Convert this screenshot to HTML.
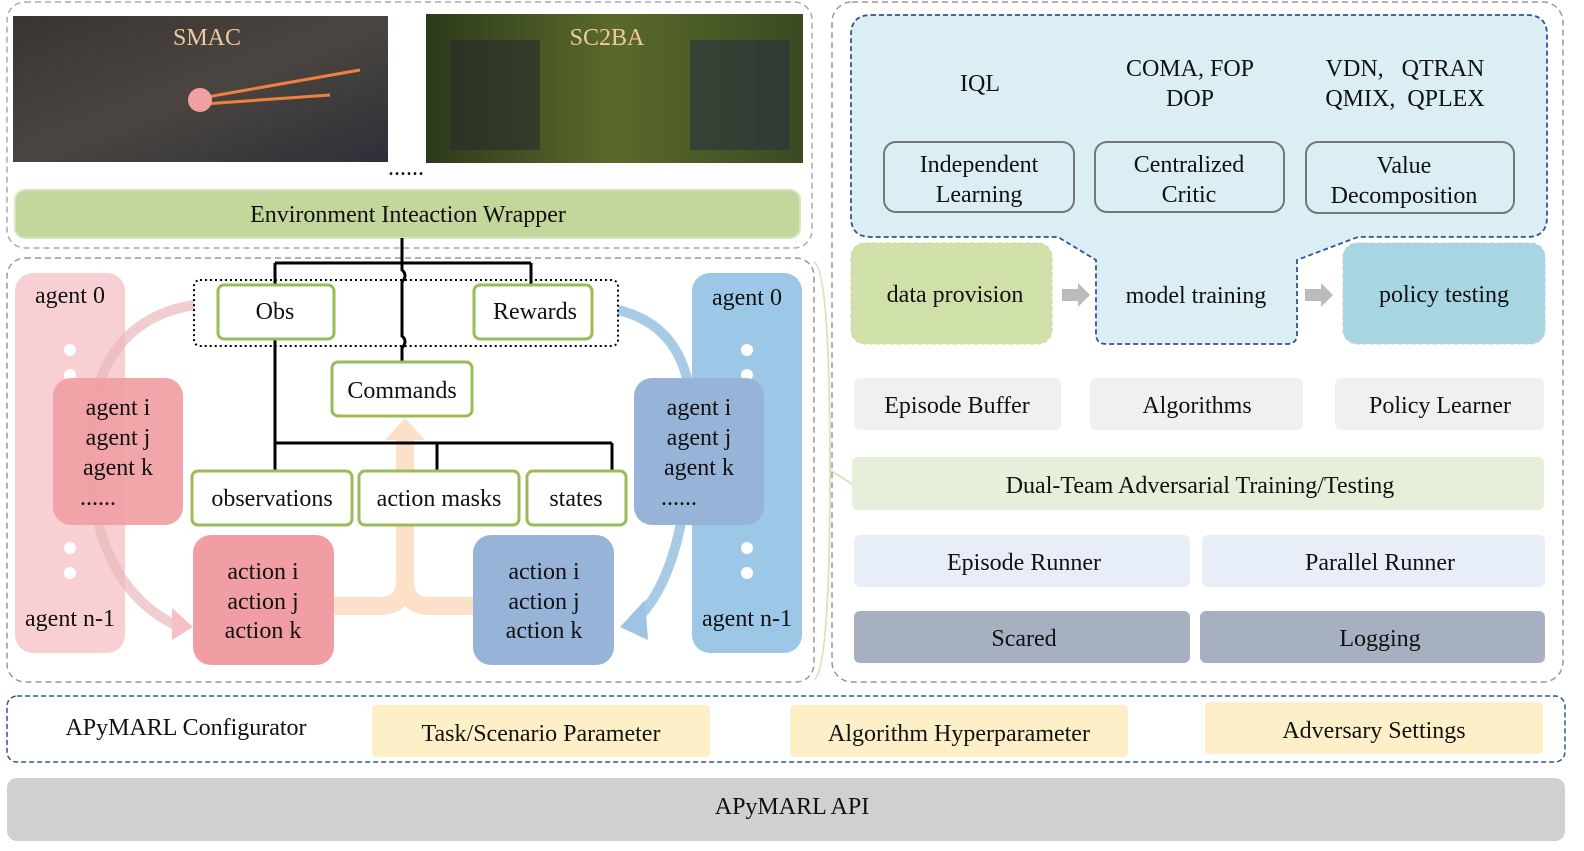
<!DOCTYPE html>
<html><head><meta charset="utf-8"><style>
html,body{margin:0;padding:0;background:#fff}
svg{display:block}
text{font-family:"Liberation Serif",serif;font-size:24px;fill:#111;white-space:pre}
</style></head><body>
<svg width="1584" height="851" viewBox="0 0 1584 851" xmlns="http://www.w3.org/2000/svg">
<defs>
<linearGradient id="smac" x1="0" y1="0" x2="1" y2="1"><stop offset="0" stop-color="#3a3530"/><stop offset="0.5" stop-color="#4a4540"/><stop offset="1" stop-color="#2e3038"/></linearGradient>
<linearGradient id="sc2" x1="0" y1="0" x2="1" y2="0"><stop offset="0" stop-color="#2c3a1c"/><stop offset="0.5" stop-color="#5a6a2a"/><stop offset="1" stop-color="#3a4a22"/></linearGradient>
</defs>
<rect x="7" y="2" width="805" height="246" rx="18" fill="none" stroke="#aaa" stroke-width="1.5" stroke-dasharray="6,4"/>
<rect x="13" y="16" width="375" height="146" fill="url(#smac)"/>
<line x1="190" y1="100" x2="360" y2="70" stroke="#f08040" stroke-width="3"/>
<line x1="190" y1="105" x2="330" y2="95" stroke="#f08040" stroke-width="3"/>
<circle cx="200" cy="100" r="12" fill="#f0a0a0"/>
<text x="207" y="45" text-anchor="middle" style="fill:#f0c8a0">SMAC</text>
<rect x="426" y="14" width="377" height="149" fill="url(#sc2)"/>
<rect x="450" y="40" width="90" height="110" fill="#2a2a2a" opacity="0.6"/>
<rect x="690" y="40" width="100" height="110" fill="#2a3040" opacity="0.6"/>
<text x="607" y="45" text-anchor="middle" style="fill:#f0c8a0">SC2BA</text>
<text x="406" y="175" text-anchor="middle">......</text>
<rect x="15" y="190" width="785" height="48" rx="10" fill="#c3d69b" stroke="#d8e6c0" stroke-width="2"/>
<text x="408" y="222" text-anchor="middle">Environment Inteaction Wrapper</text>

<rect x="7" y="258" width="807" height="424" rx="18" fill="none" stroke="#999" stroke-width="1.5" stroke-dasharray="6,4"/>
<path d="M814 262 Q830 270 830 470 Q830 670 814 680" fill="none" stroke="#d8e6c0" stroke-width="2"/>
<path d="M830 470 L852 484" stroke="#d8e6c0" stroke-width="2"/>
<rect x="15" y="273" width="110" height="380" rx="18" fill="#f8d0d3"/>
<rect x="692" y="273" width="110" height="380" rx="18" fill="#9dc7e7"/>
<g fill="#fff">
<circle cx="70" cy="350" r="6"/><circle cx="70" cy="375" r="6"/><circle cx="70" cy="548" r="6"/><circle cx="70" cy="573" r="6"/>
<circle cx="747" cy="350" r="6"/><circle cx="747" cy="375" r="6"/><circle cx="747" cy="548" r="6"/><circle cx="747" cy="573" r="6"/>
</g>
<text x="70" y="303" text-anchor="middle">agent 0</text>
<text x="70" y="626" text-anchor="middle">agent n-1</text>
<text x="747" y="305" text-anchor="middle">agent 0</text>
<text x="747" y="626" text-anchor="middle">agent n-1</text>
<path d="M194 305 Q100 320 90 430 Q85 580 175 625" fill="none" stroke="#eab8bb" stroke-width="10" opacity="0.7"/>
<polygon points="172,608 193,627 172,640" fill="#f6c0c4"/>
<path d="M618 310 Q700 330 690 440 Q685 570 638 618" fill="none" stroke="#9dc4e2" stroke-width="10" opacity="0.9"/>
<polygon points="645,600 620,627 648,640" fill="#9dc4e2"/>
<rect x="53" y="378" width="130" height="147" rx="18" fill="#f09ea3" opacity="0.92"/>
<rect x="634" y="378" width="130" height="147" rx="18" fill="#97b3d8"/>
<text x="118" y="415" text-anchor="middle">agent i</text>
<text x="118" y="445" text-anchor="middle">agent j</text>
<text x="118" y="475" text-anchor="middle">agent k</text>
<text x="98" y="505" text-anchor="middle">......</text>
<text x="699" y="415" text-anchor="middle">agent i</text>
<text x="699" y="445" text-anchor="middle">agent j</text>
<text x="699" y="475" text-anchor="middle">agent k</text>
<text x="679" y="505" text-anchor="middle">......</text>
<path d="M334 606 L380 606 Q405 606 405 580 L405 440 M473 606 L430 606 Q405 606 405 580" fill="none" stroke="#fde0c8" stroke-width="18"/>
<polygon points="385,440 405,418 425,440" fill="#fde0c8"/>
<rect x="193" y="535" width="141" height="130" rx="18" fill="#f09ea3"/>
<rect x="473" y="535" width="141" height="130" rx="18" fill="#97b3d8"/>
<text x="263" y="579" text-anchor="middle">action i</text>
<text x="263" y="609" text-anchor="middle">action j</text>
<text x="263" y="638" text-anchor="middle">action k</text>
<text x="544" y="579" text-anchor="middle">action i</text>
<text x="544" y="609" text-anchor="middle">action j</text>
<text x="544" y="638" text-anchor="middle">action k</text>
<g stroke="#000" stroke-width="3" fill="none">
<path d="M402 238 L402 270 Q408 275 402 282 L402 336 Q408 341 402 348 L402 362"/>
<path d="M275 263 L531 263 M275 263 L275 285 M531 263 L531 285"/>
<path d="M275 339 L275 471 M275 443 L612 443 M437 443 L437 471 M612 443 L612 471"/>
</g>
<rect x="194" y="280" width="424" height="66" rx="6" fill="none" stroke="#000" stroke-width="2" stroke-dasharray="2,3"/>
<g fill="#fff" stroke="#9bbb59" stroke-width="3">
<rect x="218" y="285" width="116" height="54" rx="6"/>
<rect x="474" y="285" width="118" height="54" rx="6"/>
<rect x="332" y="362" width="140" height="54" rx="6"/>
<rect x="192" y="471" width="160" height="54" rx="6"/>
<rect x="359" y="471" width="160" height="54" rx="6"/>
<rect x="527" y="471" width="99" height="54" rx="6"/>
</g>
<text x="275" y="319" text-anchor="middle">Obs</text>
<text x="535" y="319" text-anchor="middle">Rewards</text>
<text x="402" y="398" text-anchor="middle">Commands</text>
<text x="272" y="506" text-anchor="middle">observations</text>
<text x="439" y="506" text-anchor="middle">action masks</text>
<text x="576" y="506" text-anchor="middle">states</text>

<rect x="832" y="2" width="731" height="680" rx="20" fill="none" stroke="#999" stroke-width="1.5" stroke-dasharray="6,4"/>
<path d="M871 15 L1527 15 Q1547 15 1547 35 L1547 217 Q1547 237 1527 237 L1358 237 L1297 260 L1297 334 Q1297 344 1287 344 L1106 344 Q1096 344 1096 334 L1096 260 L1058 237 L871 237 Q851 237 851 217 L851 35 Q851 15 871 15 Z" fill="#dbeef4" stroke="#2f5597" stroke-width="1.8" stroke-dasharray="5,3"/>
<text x="980" y="91" text-anchor="middle">IQL</text>
<text x="1190" y="76" text-anchor="middle">COMA, FOP</text>
<text x="1190" y="106" text-anchor="middle">DOP</text>
<text x="1405" y="76" text-anchor="middle">VDN,   QTRAN</text>
<text x="1405" y="106" text-anchor="middle">QMIX,  QPLEX</text>
<g fill="none" stroke="#777" stroke-width="2">
<rect x="884" y="142" width="190" height="70" rx="12"/>
<rect x="1095" y="142" width="189" height="70" rx="12"/>
<rect x="1306" y="142" width="208" height="71" rx="12"/>
</g>
<text x="979" y="172" text-anchor="middle">Independent</text>
<text x="979" y="202" text-anchor="middle">Learning</text>
<text x="1189" y="172" text-anchor="middle">Centralized</text>
<text x="1189" y="202" text-anchor="middle">Critic</text>
<text x="1404" y="173" text-anchor="middle">Value</text>
<text x="1404" y="203" text-anchor="middle">Decomposition</text>
<rect x="851" y="243" width="201" height="101" rx="14" fill="#d0e0a9" stroke="#c2dc96" stroke-dasharray="4,3"/>
<rect x="1343" y="243" width="202" height="101" rx="14" fill="#a8d5e2" stroke="#ccc" stroke-dasharray="4,3"/>
<text x="955" y="302" text-anchor="middle">data provision</text>
<text x="1196" y="303" text-anchor="middle">model training</text>
<text x="1444" y="302" text-anchor="middle">policy testing</text>
<polygon points="1062,289 1078,289 1078,283 1090,295 1078,307 1078,301 1062,301" fill="#bbb"/>
<polygon points="1305,289 1321,289 1321,283 1333,295 1321,307 1321,301 1305,301" fill="#bbb"/>
<rect x="854" y="378" width="207" height="52" rx="6" fill="#f0f0f0"/>
<rect x="1090" y="378" width="213" height="52" rx="6" fill="#f0f0f0"/>
<rect x="1335" y="378" width="209" height="52" rx="6" fill="#f0f0f0"/>
<text x="957" y="413" text-anchor="middle">Episode Buffer</text>
<text x="1197" y="413" text-anchor="middle">Algorithms</text>
<text x="1440" y="413" text-anchor="middle">Policy Learner</text>
<rect x="852" y="457" width="692" height="53" rx="6" fill="#e6efd9"/>
<text x="1200" y="493" text-anchor="middle">Dual-Team Adversarial Training/Testing</text>
<rect x="854" y="535" width="336" height="52" rx="6" fill="#e7eef8"/>
<rect x="1202" y="535" width="343" height="52" rx="6" fill="#e7eef8"/>
<text x="1024" y="570" text-anchor="middle">Episode Runner</text>
<text x="1380" y="570" text-anchor="middle">Parallel Runner</text>
<rect x="854" y="611" width="336" height="52" rx="6" fill="#a6b0c0"/>
<rect x="1200" y="611" width="345" height="52" rx="6" fill="#a6b0c0"/>
<text x="1024" y="646" text-anchor="middle">Scared</text>
<text x="1380" y="646" text-anchor="middle">Logging</text>

<rect x="7" y="696" width="1558" height="66" rx="10" fill="none" stroke="#2f5597" stroke-width="1.5" stroke-dasharray="5,3"/>
<text x="186" y="735" text-anchor="middle">APyMARL Configurator</text>
<rect x="372" y="705" width="338" height="52" rx="4" fill="#fdf0c8"/>
<rect x="790" y="705" width="338" height="52" rx="4" fill="#fdf0c8"/>
<rect x="1205" y="702" width="338" height="52" rx="4" fill="#fdf0c8"/>
<text x="541" y="741" text-anchor="middle">Task/Scenario Parameter</text>
<text x="959" y="741" text-anchor="middle">Algorithm Hyperparameter</text>
<text x="1374" y="738" text-anchor="middle">Adversary Settings</text>
<rect x="7" y="778" width="1558" height="63" rx="10" fill="#d0d0d0"/>
<text x="792" y="814" text-anchor="middle">APyMARL API</text>
</svg>
</body></html>
